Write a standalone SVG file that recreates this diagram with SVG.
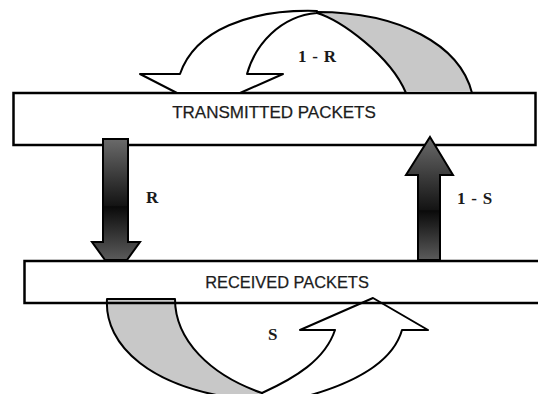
<svg xmlns="http://www.w3.org/2000/svg" width="538" height="394" viewBox="0 0 538 394">
<style>
.box{fill:#fff;stroke:#000;stroke-width:2.5}
.boxo{fill:none;stroke:#000;stroke-width:2.5}
.lbl{font-family:"Liberation Sans",Arial,sans-serif;fill:#1c1c1c;stroke:#1c1c1c;stroke-width:0.25;text-anchor:middle}
.ml{font-family:"Liberation Serif","Times New Roman",serif;font-weight:bold;font-size:17px;word-spacing:1.5px;fill:#1a1a1a}
.w{fill:#fff;stroke:#000;stroke-width:2;stroke-linejoin:round}
.g{fill:#c8c8c8;stroke:#000;stroke-width:2;stroke-linejoin:round}
.v{stroke:#000;stroke-width:2;stroke-linejoin:miter}
</style>
<defs>
<linearGradient id="gd" gradientUnits="userSpaceOnUse" x1="0" y1="139" x2="0" y2="262">
<stop offset="0" stop-color="#6a6a6a"/>
<stop offset="0.54" stop-color="#141414"/>
<stop offset="0.55" stop-color="#0a0a0a"/>
<stop offset="1" stop-color="#5e5e5e"/>
</linearGradient>
<linearGradient id="gu" gradientUnits="userSpaceOnUse" x1="0" y1="137" x2="0" y2="262">
<stop offset="0" stop-color="#6a6a6a"/>
<stop offset="0.58" stop-color="#141414"/>
<stop offset="0.59" stop-color="#0a0a0a"/>
<stop offset="1" stop-color="#5e5e5e"/>
</linearGradient>
</defs>
<rect width="538" height="394" fill="#fff"/>
<g id="transmitted">
<rect class="box" x="13.5" y="93" width="522" height="52"/>
<text class="lbl" x="274" y="118" font-size="17">TRANSMITTED PACKETS</text>
</g>
<g id="connectors">
<g id="loop-1-R">
<path class="g" d="M317,12 C400,12 460,45 472,93 L406,93 C390,55 340,20 317,13 Z"/>
<path class="w" d="M180,74 L140,74 L177,93 L240,93 L283,74 L247,74 C255,45 280,16 317,13 L317,11 C250,9 195,30 180,74 Z"/>
<text class="ml" x="298" y="62">1 - R</text>
</g>
<g id="arrow-R">
<path class="v" fill="url(#gd)" d="M103,139 L128,139 L128,242 L140,242 L127,260 L105,260 L92,242 L103,242 Z"/>
<text class="ml" x="146" y="203">R</text>
</g>
<g id="arrow-1-S">
<path class="v" fill="url(#gu)" d="M430,137 L453,175 L440,175 L440,260 L418,260 L418,175 L406,175 Z"/>
<text class="ml" x="457" y="204">1 - S</text>
</g>
<g id="loop-S">
<path class="g" d="M107,299 L175,299 C175,340 210,375 262,393 L262,400 L250,400 C150,390 104,345 107,299 Z"/>
<path class="w" d="M262,393 C295,378 325,360 335,330 L300,330 L373,298 L428,330 L402,330 C392,365 350,385 300,398 L262,400 Z"/>
<text class="ml" x="268" y="340">S</text>
</g>
</g>
<g id="received">
<rect class="boxo" x="24.5" y="261" width="530" height="42"/>
<text class="lbl" x="287" y="288" font-size="16.4">RECEIVED PACKETS</text>
</g>
</svg>
